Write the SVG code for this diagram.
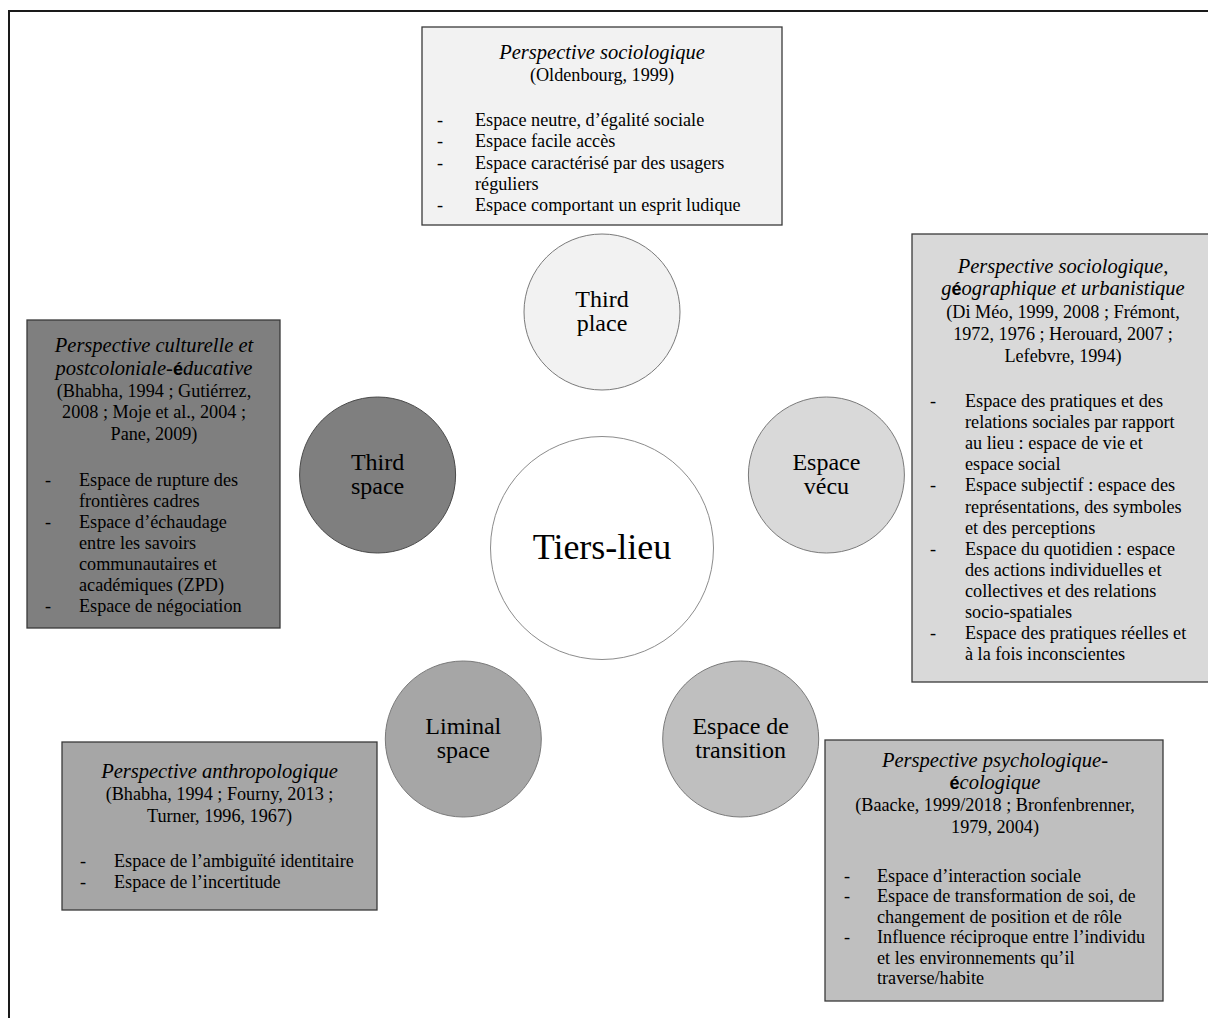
<svg xmlns="http://www.w3.org/2000/svg" width="1208" height="1018" viewBox="0 0 1208 1018">
  <style>
    text { font-family: "Liberation Serif", "Times New Roman", serif; fill: #000; }
    .t { font-size: 20.5px; font-style: italic; text-anchor: middle; }
    .c { font-size: 18.2px; text-anchor: middle; }
    .b { font-size: 18.2px; }
    .lbl { font-size: 24px; text-anchor: middle; }
    .hub { font-size: 36px; text-anchor: middle; }
    .box { stroke: #3a3a3a; stroke-width: 1.3; }
    .ring { stroke: #7a7a7a; stroke-width: 1; }
    .acc { font-style: normal; font-family: "Liberation Sans", sans-serif; font-weight: bold; font-size: 18px; }
  </style>

  <!-- outer frame (right and bottom edges run past the page) -->
  <rect x="9" y="11" width="1220" height="1030" fill="#fff" stroke="#1a1a1a" stroke-width="2"/>

  <g id="connectors"/>

  <!-- hub -->
  <g id="node-tiers-lieu">
    <circle cx="602" cy="548" r="111.5" fill="#fff" stroke="#8c8c8c" stroke-width="1"/>
    <text class="hub" x="602" y="559">Tiers-lieu</text>
  </g>

  <!-- satellites -->
  <g id="node-third-place">
    <circle class="ring" cx="602" cy="312" r="78" fill="#f2f2f2"/>
    <text class="lbl" x="602" y="307">Third</text>
    <text class="lbl" x="602" y="331">place</text>
  </g>
  <g id="node-espace-vecu">
    <circle class="ring" cx="826.4" cy="475" r="78" fill="#d9d9d9"/>
    <text class="lbl" x="826.4" y="470">Espace</text>
    <text class="lbl" x="826.4" y="494">vécu</text>
  </g>
  <g id="node-third-space">
    <circle cx="377.6" cy="475" r="78" fill="#7f7f7f" stroke="#4a4a4a" stroke-width="1"/>
    <text class="lbl" x="377.6" y="470">Third</text>
    <text class="lbl" x="377.6" y="494">space</text>
  </g>
  <g id="node-transition">
    <circle class="ring" cx="740.7" cy="739" r="78" fill="#bfbfbf"/>
    <text class="lbl" x="740.7" y="734">Espace de</text>
    <text class="lbl" x="740.7" y="758">transition</text>
  </g>
  <g id="node-liminal">
    <circle class="ring" cx="463.3" cy="739" r="78" fill="#a6a6a6"/>
    <text class="lbl" x="463.3" y="734">Liminal</text>
    <text class="lbl" x="463.3" y="758">space</text>
  </g>

  <!-- description boxes -->
  <g id="box-sociologique">
    <rect class="box" x="422" y="27" width="360" height="198" fill="#f2f2f2"/>
    <text class="t" x="602" y="59">Perspective sociologique</text>
    <text class="c" x="602" y="80.5">(Oldenbourg, 1999)</text>
    <text class="b" x="437" y="126">-</text>
    <text class="b" x="475" y="126">Espace neutre, d’égalité sociale</text>
    <text class="b" x="437" y="147.3">-</text>
    <text class="b" x="475" y="147.3">Espace facile accès</text>
    <text class="b" x="437" y="168.6">-</text>
    <text class="b" x="475" y="168.6">Espace caractérisé par des usagers</text>
    <text class="b" x="475" y="189.9">réguliers</text>
    <text class="b" x="437" y="211.2">-</text>
    <text class="b" x="475" y="211.2">Espace comportant un esprit ludique</text>
  </g>

  <g id="box-geographique">
    <rect class="box" x="912" y="234" width="304" height="448" fill="#d9d9d9"/>
    <text class="t" x="1063" y="273">Perspective sociologique,</text>
    <text class="t" x="1063" y="295">g<tspan class="acc">é</tspan>ographique et urbanistique</text>
    <text class="c" x="1063" y="318">(Di Méo, 1999, 2008 ; Frémont,</text>
    <text class="c" x="1063" y="340">1972, 1976 ; Herouard, 2007 ;</text>
    <text class="c" x="1063" y="361.5">Lefebvre, 1994)</text>
    <text class="b" x="930" y="407">-</text>
    <text class="b" x="965" y="407">Espace des pratiques et des</text>
    <text class="b" x="965" y="428.1">relations sociales par rapport</text>
    <text class="b" x="965" y="449.2">au lieu : espace de vie et</text>
    <text class="b" x="965" y="470.3">espace social</text>
    <text class="b" x="930" y="491.4">-</text>
    <text class="b" x="965" y="491.4">Espace subjectif : espace des</text>
    <text class="b" x="965" y="512.5">représentations, des symboles</text>
    <text class="b" x="965" y="533.6">et des perceptions</text>
    <text class="b" x="930" y="554.7">-</text>
    <text class="b" x="965" y="554.7">Espace du quotidien : espace</text>
    <text class="b" x="965" y="575.8">des actions individuelles et</text>
    <text class="b" x="965" y="596.9">collectives et des relations</text>
    <text class="b" x="965" y="618">socio-spatiales</text>
    <text class="b" x="930" y="639.1">-</text>
    <text class="b" x="965" y="639.1">Espace des pratiques réelles et</text>
    <text class="b" x="965" y="660.2">à la fois inconscientes</text>
  </g>

  <g id="box-culturelle">
    <rect class="box" x="27" y="320" width="253" height="308" fill="#7f7f7f"/>
    <text class="t" x="154" y="352">Perspective culturelle et</text>
    <text class="t" x="154" y="374.5">postcoloniale-<tspan class="acc">é</tspan>ducative</text>
    <text class="c" x="154" y="396.5">(Bhabha, 1994 ; Gutiérrez,</text>
    <text class="c" x="154" y="418">2008 ; Moje et al., 2004 ;</text>
    <text class="c" x="154" y="439.5">Pane, 2009)</text>
    <text class="b" x="45" y="486">-</text>
    <text class="b" x="79" y="486">Espace de rupture des</text>
    <text class="b" x="79" y="507">frontières cadres</text>
    <text class="b" x="45" y="528">-</text>
    <text class="b" x="79" y="528">Espace d’échaudage</text>
    <text class="b" x="79" y="549">entre les savoirs</text>
    <text class="b" x="79" y="570">communautaires et</text>
    <text class="b" x="79" y="591">académiques (ZPD)</text>
    <text class="b" x="45" y="612">-</text>
    <text class="b" x="79" y="612">Espace de négociation</text>
  </g>

  <g id="box-anthropologique">
    <rect class="box" x="62" y="742" width="315" height="168" fill="#a6a6a6"/>
    <text class="t" x="219.5" y="778">Perspective anthropologique</text>
    <text class="c" x="219.5" y="800">(Bhabha, 1994 ; Fourny, 2013 ;</text>
    <text class="c" x="219.5" y="821.5">Turner, 1996, 1967)</text>
    <text class="b" x="80" y="866.5">-</text>
    <text class="b" x="114" y="866.5">Espace de l’ambiguïté identitaire</text>
    <text class="b" x="80" y="887.5">-</text>
    <text class="b" x="114" y="887.5">Espace de l’incertitude</text>
  </g>

  <g id="box-psychologique">
    <rect class="box" x="825" y="740" width="338" height="261" fill="#bfbfbf"/>
    <text class="t" x="995" y="766.5">Perspective psychologique-</text>
    <text class="t" x="995" y="789"><tspan class="acc">é</tspan>cologique</text>
    <text class="c" x="995" y="811">(Baacke, 1999/2018 ; Bronfenbrenner,</text>
    <text class="c" x="995" y="832.5">1979, 2004)</text>
    <text class="b" x="844" y="881.5">-</text>
    <text class="b" x="877" y="881.5">Espace d’interaction sociale</text>
    <text class="b" x="844" y="902">-</text>
    <text class="b" x="877" y="902">Espace de transformation de soi, de</text>
    <text class="b" x="877" y="922.5">changement de position et de rôle</text>
    <text class="b" x="844" y="943">-</text>
    <text class="b" x="877" y="943">Influence réciproque entre l’individu</text>
    <text class="b" x="877" y="963.5">et les environnements qu’il</text>
    <text class="b" x="877" y="984">traverse/habite</text>
  </g>
</svg>
